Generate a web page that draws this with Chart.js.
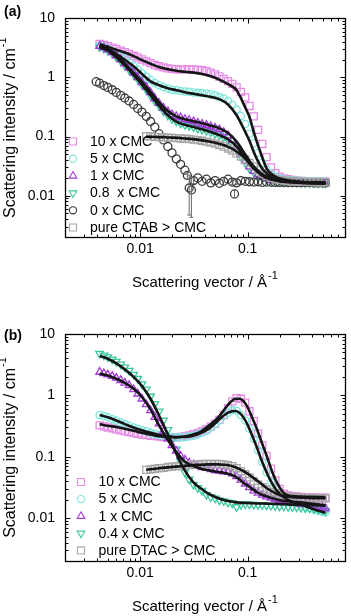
<!DOCTYPE html>
<html><head><meta charset="utf-8">
<script src="https://cdn.jsdelivr.net/npm/chart.js@4.4.1/dist/chart.umd.min.js"></script>
<style>
html,body{margin:0;padding:0;background:#fff;}
#wrap{position:relative;width:351px;height:616px;overflow:hidden;background:#fff;}
.panel{position:absolute;left:0;width:351px;height:308px;}
canvas{display:block;}
</style></head><body>
<div id="wrap">
<div class="panel" style="top:0"><canvas id="ca" width="351" height="308"></canvas></div>
<div class="panel" style="top:308px"><canvas id="cb" width="351" height="308"></canvas></div>
</div>
<script>
// ---------- Panel (a) data ----------
const qA = [0.0042,0.0046,0.0050,0.0055,0.0060,0.0066,0.0072,0.0079,0.0087,0.0095,0.0104,0.0114,0.0125,0.0137,0.0150,0.0165,0.0181,0.0198,0.0217,0.0238,0.0261,0.0286,0.0314,0.0344,0.0377,0.0414,0.0454,0.0498,0.0546,0.0599,0.0657,0.0720,0.0790,0.0866,0.095,0.104,0.114,0.125,0.137,0.150,0.165,0.181,0.198,0.217,0.238,0.261,0.286,0.314,0.344,0.377,0.414,0.454,0.498,0.530];
const a10 = [3.7,3.55,3.4,3.2,3.05, 2.85,2.68,2.5,2.33,2.18, 2.02,1.88,1.75,1.63,1.55, 1.48,1.43,1.40,1.38,1.37, 1.37,1.37,1.37,1.36,1.33, 1.28,1.21,1.13,1.04,0.95, 0.87,0.78,0.68,0.57,0.46, 0.33,0.22,0.13,0.075,0.045, 0.03,0.024,0.021,0.0195,0.019, 0.0185,0.018,0.0178,0.0176,0.0175, 0.0174,0.0173,0.0172,0.0172];
const a5 = [3.49,3.28,3.08,2.8,2.55, 2.25,2.05,1.8,1.55,1.37, 1.18,1.03,0.91,0.81,0.74, 0.69,0.65,0.62,0.61,0.59, 0.58,0.575,0.56,0.55,0.545, 0.535,0.52,0.50,0.47,0.44, 0.40,0.345,0.286,0.223,0.163, 0.112,0.077,0.053,0.036,0.028, 0.0234,0.021,0.0195,0.019,0.0185, 0.0182,0.018,0.0178,0.0177,0.0176, 0.0175,0.0174,0.0173,0.0172];
const a1 = [3.4,3.2,2.95,2.65,2.35, 2.0,1.72,1.46,1.2,1.0, 0.83,0.69,0.56,0.44,0.368, 0.305,0.265,0.237,0.22,0.21, 0.197,0.19,0.18,0.17,0.163, 0.156,0.148,0.14,0.132,0.119, 0.105,0.087,0.068,0.051,0.0387, 0.031,0.026,0.023,0.0207,0.0195, 0.0182,0.0178,0.0175,0.0172,0.017, 0.0168,0.0167,0.0166,0.0165,0.0164, 0.0163,0.0162,0.0161,0.016];
const a08 = [3.28,3.08,2.85,2.55,2.22, 1.9,1.6,1.35,1.12,0.93, 0.76,0.62,0.5,0.40,0.33, 0.27,0.228,0.2,0.182,0.168, 0.158,0.152,0.145,0.137,0.132, 0.126,0.119,0.112,0.106,0.098, 0.088,0.075,0.059,0.046,0.036, 0.029,0.025,0.022,0.02,0.019, 0.0182,0.0178,0.0175,0.0172,0.017, 0.0169,0.0168,0.0167,0.0166,0.0165, 0.0165,0.0164,0.0164,0.0163];
const qPureA = [0.0114,0.0125,0.0137,0.0150,0.0165,0.0181,0.0198,0.0217,0.0238,0.0261,0.0286,0.0314,0.0344,0.0377,0.0414,0.0454,0.0498,0.0546,0.0599,0.0657,0.0720,0.0790,0.0866,0.095,0.104,0.114,0.125,0.137,0.150,0.165,0.181,0.198,0.217,0.238,0.261,0.286,0.314,0.344,0.377,0.414,0.454,0.498,0.530];
const aPure = [0.102,0.101,0.099,0.098,0.097, 0.096,0.095,0.094,0.093,0.092, 0.091,0.089,0.087,0.085,0.082, 0.079,0.076,0.072,0.068,0.063, 0.058,0.052,0.046,0.041,0.036, 0.031,0.027,0.0237,0.0215,0.02, 0.019,0.0185,0.018,0.0177,0.0175, 0.0173,0.0172,0.0171,0.017,0.017, 0.0169,0.0169,0.0168];
const q0A = [0.0039,0.0042,0.0046,0.005,0.0055, 0.006,0.0066,0.0072,0.0079,0.0087, 0.0095,0.0104,0.0114,0.0125,0.0137, 0.015,0.0165,0.0181,0.0198,0.0217, 0.0238,0.0261,0.0275,0.0286,0.0300, 0.0314,0.0344,0.0377,0.0414,0.0454, 0.0498,0.0546,0.0599,0.0657,0.072, 0.0755,0.079,0.0866,0.095,0.104, 0.114,0.125,0.137,0.15,0.165, 0.181,0.198,0.217,0.238,0.261, 0.286,0.314,0.344,0.377,0.414, 0.454,0.498,0.53];
const a0 = [0.85,0.80,0.73,0.68,0.62, 0.56,0.50,0.45,0.40,0.35, 0.30,0.26,0.22,0.18,0.145, 0.112,0.088,0.068,0.053,0.042, 0.034,0.027,0.022,0.0135,0.0125, 0.018,0.02,0.0175,0.019,0.0165, 0.018,0.0162,0.0175,0.019,0.017, 0.0107,0.0165,0.018,0.0175,0.0172, 0.017,0.0172,0.0168,0.017,0.0169, 0.0168,0.0168,0.0167,0.0167,0.0167, 0.0166,0.0166,0.0166,0.0166,0.0165, 0.0165,0.0165,0.0165];
const a0Err = [0,0,0,0,0, 0,0,0,0,0, 0,0,0,0,0, 0,0,0,0,0, 0,0,0.003,0.0088,0.0082, 0.002,0,0,0,0, 0,0,0,0,0.0015, 0.0015,0.0012,0,0,0, 0,0,0,0,0, 0,0,0,0,0, 0,0,0,0,0, 0,0,0];
// fits (a)
const fqA = [0.0042,0.005,0.006,0.0072,0.0087,0.0104,0.0125,0.015,0.0181,0.0217,0.0261,0.0314,0.0377,0.0454,0.0546,0.0657,0.079,0.095,0.104,0.114,0.125,0.137,0.15,0.165,0.181,0.2,0.24,0.3,0.4,0.53];
const fa10 = [3.65,3.3,2.95,2.65,2.3, 1.97,1.71,1.5,1.38,1.3, 1.25,1.21,1.15,1.05,0.92, 0.77,0.61,0.31,0.215,0.12, 0.071,0.044,0.029,0.0237,0.021, 0.0195,0.018,0.0172,0.0168,0.0166];
const fa5 = [3.45,3.05,2.5,2.0,1.55, 1.15,0.86,0.74,0.66,0.61, 0.565,0.53,0.5,0.47,0.43, 0.35,0.23,0.12,0.085,0.055, 0.038,0.0285,0.024,0.021,0.019, 0.018,0.0172,0.0168,0.0166,0.0165];
const fa1 = [3.35,2.95,2.35,1.72,1.2, 0.85,0.57,0.38,0.27,0.22, 0.197,0.182,0.168,0.153,0.138, 0.115,0.082,0.05,0.039,0.031, 0.026,0.0225,0.0205,0.0192,0.0182, 0.0176,0.017,0.0166,0.0163,0.0161];
const fa08 = [3.25,2.85,2.2,1.6,1.1, 0.76,0.5,0.33,0.23,0.18, 0.158,0.145,0.133,0.12,0.106, 0.09,0.068,0.043,0.035,0.029, 0.025,0.022,0.02,0.019,0.0182, 0.0176,0.017,0.0166,0.0163,0.0161];
const fqPureA = [0.0114,0.015,0.02,0.026,0.034,0.045,0.055,0.066,0.079,0.095,0.114,0.137,0.165,0.2,0.24,0.3,0.4,0.53];
const faPure = [0.1,0.098,0.096,0.093,0.089,0.082,0.075,0.067,0.056,0.043,0.031,0.023,0.0195,0.018,0.0175,0.017,0.0167,0.0166];

// ---------- Panel (b) data ----------
const qB = [0.0042,0.0046,0.0050,0.0055,0.0060,0.0066,0.0072,0.0079,0.0087,0.0095,0.0104,0.0114,0.0125,0.0137,0.0150,0.0165,0.0181,0.0198,0.0217,0.0238,0.0261,0.0286,0.0314,0.0344,0.0377,0.0414,0.0454,0.0498,0.0546,0.0599,0.0657,0.0720,0.0790,0.0866,0.095,0.104,0.114,0.125,0.137,0.150,0.165,0.181,0.198,0.217,0.238,0.261,0.286,0.314,0.344,0.377,0.414,0.454,0.498,0.530];
const b10 = [0.325,0.312,0.30,0.29,0.28, 0.27,0.26,0.252,0.243,0.237, 0.23,0.226,0.22,0.217,0.213, 0.21,0.207,0.207,0.207,0.21, 0.215,0.223,0.233,0.245,0.26, 0.28,0.31,0.345,0.40,0.48, 0.62,0.80,0.90,0.88,0.76, 0.55,0.38,0.24,0.153,0.103, 0.064,0.041,0.030,0.025,0.0234, 0.0228,0.0225,0.0222,0.022,0.0218, 0.0217,0.0216,0.0215,0.0215];
const b5 = [0.48,0.46,0.44,0.41,0.39, 0.36,0.34,0.32,0.30,0.286, 0.27,0.26,0.245,0.235,0.226, 0.217,0.213,0.21,0.207,0.207, 0.21,0.213,0.22,0.23,0.245, 0.265,0.30,0.34,0.39,0.46, 0.52,0.57,0.56,0.48,0.39, 0.286,0.197,0.127,0.082,0.056, 0.039,0.030,0.024,0.021,0.0197, 0.0185,0.0175,0.0165,0.0155,0.0147, 0.014,0.0133,0.0127,0.0123];
const b1 = [2.40,2.28,2.17,2.05,1.92, 1.76,1.6,1.46,1.25,1.06, 0.88,0.71,0.57,0.44,0.345, 0.26,0.197,0.153,0.124,0.103, 0.089,0.080,0.074,0.071,0.067, 0.065,0.062,0.060,0.059,0.057, 0.056,0.053,0.048,0.042,0.036, 0.0315,0.028,0.0257,0.0238,0.0224, 0.0213,0.0203,0.0197,0.019,0.0185, 0.018,0.0175,0.0171,0.0167,0.0163, 0.0159,0.0154,0.0148,0.0144];
const b04 = [4.78,4.49,4.22,3.87,3.55, 3.2,2.86,2.53,2.18,1.87, 1.53,1.25,0.96,0.73,0.55, 0.39,0.275,0.19,0.132,0.084, 0.056,0.043,0.035,0.031,0.028, 0.024,0.022,0.021,0.0195,0.019, 0.018,0.0175,0.0152,0.0165,0.017, 0.0168,0.0166,0.0165,0.0164,0.0162, 0.016,0.0158,0.0156,0.0155,0.0153, 0.0151,0.015,0.0148,0.0146,0.0144, 0.0141,0.0138,0.0135,0.0132];
const qPureB = [0.0114,0.0125,0.0137,0.0150,0.0165,0.0181,0.0198,0.0217,0.0238,0.0261,0.0286,0.0314,0.0344,0.0377,0.0414,0.0454,0.0498,0.0546,0.0599,0.0657,0.0720,0.0790,0.0866,0.095,0.104,0.114,0.125,0.137,0.150,0.165,0.181,0.198,0.217,0.238,0.261,0.286,0.314,0.344,0.377,0.414,0.454,0.498,0.530];
const bPure = [0.061,0.062,0.0637,0.065,0.066, 0.068,0.069,0.070,0.071,0.072, 0.073,0.074,0.075,0.076,0.076, 0.076,0.076,0.076,0.075,0.073, 0.070,0.065,0.058,0.052,0.046, 0.040,0.0355,0.0318,0.0292,0.0268, 0.025,0.0238,0.0228,0.0222,0.022, 0.0217,0.0215,0.0213,0.0212,0.0211, 0.021,0.021,0.021];
// fits (b)
const fqB = [0.0042,0.005,0.006,0.0072,0.0087,0.0104,0.0125,0.015,0.018,0.0217,0.026,0.031,0.037,0.044,0.052,0.06,0.068,0.076,0.084,0.092,0.1,0.11,0.12,0.135,0.15,0.17,0.19,0.22,0.26,0.32,0.4,0.53];
const fb10 = [0.34,0.32,0.305,0.286,0.265, 0.245,0.23,0.215,0.21,0.207, 0.213,0.23,0.26,0.325,0.417, 0.57,0.75,0.87,0.88,0.8, 0.64,0.44,0.305,0.173,0.105, 0.056,0.036,0.025,0.0228,0.0225, 0.0222,0.022];
const fb5 = [0.48,0.44,0.39,0.34,0.30, 0.27,0.245,0.226,0.215,0.21, 0.21,0.22,0.245,0.29,0.375, 0.47,0.535,0.555,0.52,0.43, 0.33,0.223,0.153,0.087,0.056, 0.036,0.027,0.0215,0.0185,0.0165, 0.0142,0.0122];
const fb1 = [2.26,2.1,1.87,1.6,1.28, 0.94,0.59,0.325,0.19,0.119, 0.084,0.071,0.064,0.06,0.057, 0.055,0.052,0.048,0.043,0.037, 0.034,0.030,0.027,0.024,0.0228, 0.021,0.020,0.019,0.0185,0.018, 0.0171,0.0161];
const fb04 = [4.38,3.95,3.32,2.65,2.0, 1.42,0.88,0.47,0.237,0.112, 0.06,0.039,0.030,0.0245,0.0215, 0.0198,0.0188,0.0182,0.0179,0.0177, 0.0176,0.0175,0.0174,0.0173,0.0172, 0.0171,0.017,0.0168,0.0166,0.0164, 0.0162,0.016];
const fqPureB = [0.0114,0.015,0.018,0.0217,0.026,0.031,0.037,0.044,0.052,0.06,0.068,0.076,0.084,0.092,0.1,0.11,0.12,0.135,0.15,0.17,0.19,0.22,0.26,0.32,0.4,0.53];
const fbPure = [0.061,0.065,0.067,0.069,0.071,0.073,0.074,0.075,0.075,0.074,0.072,0.068,0.063,0.058,0.053,0.047,0.042,0.036,0.031,0.027,0.0245,0.0228,0.022,0.0215,0.0212,0.021];

// ---------- labels / ticks ----------
const labelsA = ['10 x CMC','5 x CMC','1 x CMC','0.8  x CMC','0 x CMC','pure CTAB > CMC'];
const labelsB = ['10 x CMC','5 x CMC','1 x CMC','0.4 x CMC','pure DTAC > CMC'];
const xTickValues = [0.01, 0.1];
const yTickValues = [0.01, 0.1, 1, 10];
const xTitle = ['Scattering vector / \u00C5', '-1'];
const yTitle = ['Scattering intensity / cm', '-1'];

// ---------- styling ----------
const FAM = '"Liberation Sans", Arial, Helvetica, sans-serif';
const C10 = '#e68ae6', C5 = '#7ee6dc', C1 = '#a43ad8', C04 = '#3cc8a0', C0 = '#3a3a3a', CP = '#a6a6a6';

function pts(q, v){ return q.map((x,i)=>({x:x, y:v[i]})); }
function dataSet(label, q, v, style, color, r, rot, order){
  return {label:label, data:pts(q,v), showLine:false, pointStyle:style, pointRadius:r,
    pointRotation:rot, pointBorderColor:color, pointBackgroundColor:'rgba(255,255,255,0)',
    pointBorderWidth:1.3, borderColor:color, order:order, isData:true, legendColor:color};
}
function fitSet(q, v){
  return {data:pts(q,v), showLine:true, borderColor:'#151515', borderWidth:2.6, pointRadius:0,
    cubicInterpolationMode:'monotone', order:0, isData:false};
}

function drawMarker(ctx, style, x, y, r, rot){
  ctx.beginPath();
  if (style==='rect'){ const s=r/Math.SQRT2; ctx.rect(x-s,y-s,2*s,2*s); }
  else if (style==='circle'){ ctx.arc(x,y,r,0,Math.PI*2); }
  else if (style==='triangle'){
    let a = (rot||0)*Math.PI/180;
    for (let k=0;k<3;k++){ const px=x+Math.sin(a)*r, py=y-Math.cos(a)*r; if(k===0)ctx.moveTo(px,py); else ctx.lineTo(px,py); a+=2*Math.PI/3; }
    ctx.closePath();
  }
  ctx.stroke();
}

const decor = {
  id:'panelDecor',
  afterDatasetsDraw(chart, args, o){
    const ctx=chart.ctx, xs=chart.scales.x, ys=chart.scales.y;
    if (!o.err) return;
    ctx.save(); ctx.strokeStyle='#6a6a6a'; ctx.lineWidth=1;
    o.err.q.forEach((q,i)=>{
      const e=o.err.e[i]; if(!e) return;
      const v=o.err.v[i]; const x=xs.getPixelForValue(q);
      const y1=ys.getPixelForValue(v+e), y2=ys.getPixelForValue(Math.max(v-e,1e-4));
      ctx.beginPath(); ctx.moveTo(x,y1); ctx.lineTo(x,y2);
      ctx.moveTo(x-2,y1); ctx.lineTo(x+2,y1); ctx.moveTo(x-2,y2); ctx.lineTo(x+2,y2); ctx.stroke();
    });
    ctx.restore();
  },
  afterDraw(chart, args, o){
    const ctx=chart.ctx, a=chart.chartArea, xs=chart.scales.x, ys=chart.scales.y;
    ctx.save();
    // frame
    ctx.strokeStyle='#000'; ctx.lineWidth=1.3;
    const L=Math.round(a.left)+0.5, R=Math.round(a.right)+0.5, T=Math.round(a.top)+0.5, B=Math.round(a.bottom)+0.5;
    ctx.strokeRect(L,T,R-L,B-T);
    ctx.lineWidth=1;
    ctx.beginPath();
    for (let d=-4; d<=1; d++){
      for (let m=1; m<=9; m++){
        const v=m*Math.pow(10,d);
        const len = m===1?5:3;
        if (v>=xs.min*0.999 && v<=xs.max*1.001){
          const x=Math.round(xs.getPixelForValue(v))+0.5;
          ctx.moveTo(x,B); ctx.lineTo(x,B-len); ctx.moveTo(x,T); ctx.lineTo(x,T+len);
        }
        if (v>=ys.min*0.999 && v<=ys.max*1.001){
          const y=Math.round(ys.getPixelForValue(v))+0.5;
          ctx.moveTo(L,y); ctx.lineTo(L+len,y); ctx.moveTo(R,y); ctx.lineTo(R-len,y);
        }
      }
    }
    ctx.stroke();
    // legend
    ctx.font='14px '+FAM; ctx.fillStyle='#000'; ctx.textBaseline='middle'; ctx.textAlign='left';
    const ds=chart.data.datasets.filter(d=>d.isData);
    ds.forEach((d,i)=>{
      const y=o.legY+i*o.legDy;
      ctx.strokeStyle=d.legendColor; ctx.lineWidth=1.1;
      drawMarker(ctx, d.pointStyle, o.legMx, y, d.pointStyle==='rect'?5:(d.pointStyle==='circle'?3.6:4.4), d.pointRotation);
      ctx.fillStyle='#000';
      ctx.fillText(d.label, o.legTx, y+0.5);
    });
    // x title
    ctx.textBaseline='alphabetic';
    ctx.font=o.xFont+'px '+FAM; const w1=ctx.measureText(xTitle[0]).width;
    ctx.font='11px '+FAM; const w2=ctx.measureText(xTitle[1]).width;
    const cx=(a.left+a.right)/2, sx=cx-(w1+w2+1)/2, by=a.bottom+o.xTitleDy;
    ctx.font=o.xFont+'px '+FAM; ctx.fillText(xTitle[0], sx, by);
    ctx.font='11px '+FAM; ctx.fillText(xTitle[1], sx+w1+1, by-8);
    // y title
    ctx.save();
    ctx.translate(o.yTitleX, (a.top+a.bottom)/2); ctx.rotate(-Math.PI/2);
    ctx.font=o.yFont+'px '+FAM; const u1=ctx.measureText(yTitle[0]).width;
    ctx.font='11px '+FAM; const u2=ctx.measureText(yTitle[1]).width;
    const s0=-(u1+u2+1)/2;
    ctx.font=o.yFont+'px '+FAM; ctx.fillText(yTitle[0], s0, 0);
    ctx.font='11px '+FAM; ctx.fillText(yTitle[1], s0+u1+1, -9);
    ctx.restore();
    // panel letter
    ctx.font='bold 14px '+FAM; ctx.textBaseline='middle';
    ctx.fillText(o.letter, 4, o.letterY);
    ctx.restore();
  }
};

function makeChart(id, datasets, o){
  const H=308;
  return new Chart(document.getElementById(id), {
    type:'scatter',
    data:{datasets:datasets},
    options:{
      responsive:false, animation:false, devicePixelRatio:1, events:[],
      layout:{padding:{top:o.top, right:4, left:0, bottom:0}},
      plugins:{legend:{display:false}, tooltip:{enabled:false}, panelDecor:o},
      scales:{
        x:{type:'logarithmic', position:'bottom', min:0.002, max:0.8,
          grid:{display:false, drawTicks:false}, border:{display:false},
          ticks:{font:{family:FAM,size:14}, color:'#000', padding:4, maxRotation:0, autoSkip:false,
            callback:(v)=>String(v)},
          afterBuildTicks:(s)=>{ s.ticks = xTickValues.map(v=>({value:v})); },
          afterFit:(s)=>{ s.height = H - o.bottom; }
        },
        y:{type:'logarithmic', position:'left', min:0.002, max:10,
          grid:{display:false, drawTicks:false}, border:{display:false},
          ticks:{font:{family:FAM,size:14}, color:'#000', padding:10, autoSkip:false,
            callback:(v)=>String(v)},
          afterBuildTicks:(s)=>{ s.ticks = yTickValues.map(v=>({value:v})); },
          afterFit:(s)=>{ s.width = 65; }
        }
      }
    },
    plugins:[decor]
  });
}

// panel (a)
makeChart('ca', [
  fitSet(fqA, fa10), fitSet(fqA, fa5), fitSet(fqA, fa1), fitSet(fqA, fa08), fitSet(fqPureA, faPure),
  dataSet(labelsA[0], qA, a10, 'rect', C10, 5, 0, 6),
  dataSet(labelsA[1], qA, a5, 'circle', C5, 3.6, 0, 5),
  dataSet(labelsA[2], qA, a1, 'triangle', C1, 4.4, 0, 3),
  dataSet(labelsA[3], qA, a08, 'triangle', C04, 4.4, 180, 4),
  dataSet(labelsA[4], q0A, a0, 'circle', C0, 4, 0, 2),
  dataSet(labelsA[5], qPureA, aPure, 'rect', CP, 5, 0, 1)
], {top:10, bottom:237, letter:'(a)', letterY:12, legMx:73, legTx:90, legY:141.5, legDy:17.2,
    xTitleDy:50, xFont:15, yTitleX:15, yFont:16, err:{q:q0A, v:a0, e:a0Err}});

// panel (b)
makeChart('cb', [
  fitSet(fqB, fb10), fitSet(fqB, fb5), fitSet(fqB, fb1), fitSet(fqB, fb04), fitSet(fqPureB, fbPure),
  dataSet(labelsB[0], qB, b10, 'rect', C10, 5, 0, 6),
  dataSet(labelsB[1], qB, b5, 'circle', C5, 3.6, 0, 5),
  dataSet(labelsB[2], qB, b1, 'triangle', C1, 4.4, 0, 3),
  dataSet(labelsB[3], qB, b04, 'triangle', C04, 4.4, 180, 4),
  dataSet(labelsB[4], qPureB, bPure, 'rect', CP, 5, 0, 1)
], {top:26, bottom:253, letter:'(b)', letterY:28, legMx:81, legTx:98.5, legY:174, legDy:17.1,
    xTitleDy:50, xFont:15, yTitleX:15, yFont:16, err:null});
</script>
</body></html>
